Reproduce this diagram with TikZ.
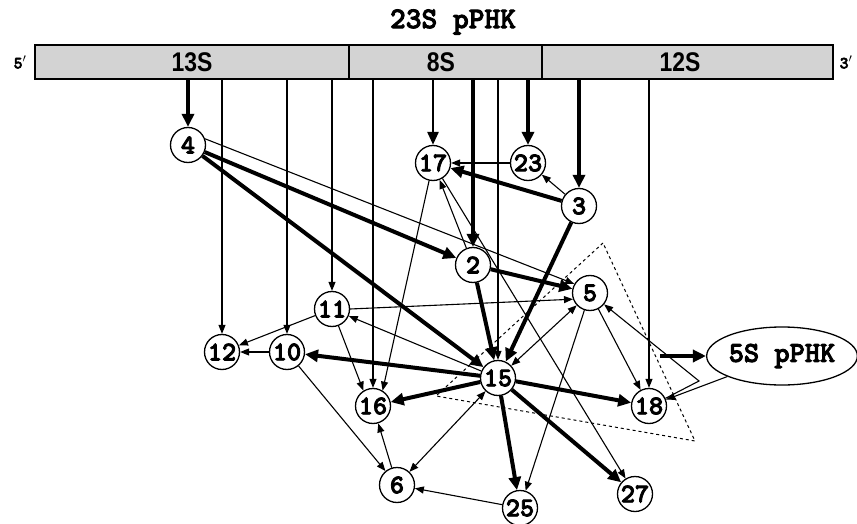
\documentclass[tikz,border=0pt]{standalone}
\usepackage{fontspec}
\setmainfont{Liberation Sans}
\newfontfamily\barfont[FakeStretch=0.85]{Liberation Sans}
\newfontfamily\tyfont[FakeBold=3]{lmmonolt10-bold.otf}
\usetikzlibrary{arrows.meta,shapes.geometric}
\definecolor{barGray}{RGB}{211,211,211}
\begin{document}
\begin{tikzpicture}[x=1pt,y=-1pt,
  num/.style={circle,draw,line width=1.3pt,fill=white,minimum size=35pt,inner sep=0pt,
    font=\tyfont\fontsize{27}{27}\selectfont},
  tarr/.style={line width=1.1pt,-{Triangle[length=9pt,width=7pt]}},
  tarrtwo/.style={line width=1.1pt,{Triangle[length=9pt,width=7pt]}-{Triangle[length=9pt,width=7pt]}},
  Marr/.style={line width=2.6pt,-{Triangle[length=13pt,width=11pt]}},
  Tarr/.style={line width=4pt,-{Triangle[length=13pt,width=12pt]}},
  seglabel/.style={font=\barfont\bfseries\fontsize{27}{27}\selectfont,inner sep=0pt},
  endlabel/.style={font=\tyfont\fontsize{17}{17}\selectfont,inner sep=0pt},
  triline/.style={line width=1pt,dash pattern=on 3pt off 3pt}
]
\useasboundingbox (0,0) rectangle (857,524);

% title
\node[font=\tyfont\fontsize{30}{30}\selectfont,inner sep=0pt] (title) at (453,22) {23S pPHK};

% bar
\draw[fill=barGray,line width=1.5pt] (35,45) rectangle (833,79);
\draw[line width=1.5pt] (349,45) -- (349,79);
\draw[line width=1.5pt] (542,45) -- (542,79);
\coordinate (bb) at (0,79);
\node[seglabel] (l13) at (192,62) {13S};
\node[seglabel] (l8) at (441,62) {8S};
\node[seglabel] (l12) at (680,62) {12S};
\node[endlabel] (five) at (20,62) {5$'$};
\node[endlabel] (three) at (846,62) {3$'$};

% dashed triangle
\draw[triline] (603,243) -- (436,396) -- (695,441) -- cycle;

% nodes
\node[num] (n4) at (188,145) {4};
\node[num] (n17) at (433,163) {17};
\node[num] (n23) at (528,163) {23};
\node[num] (n3) at (579,206) {3};
\node[num] (n2) at (473,265) {2};
\node[num] (n5) at (590,293) {5};
\node[num] (n11) at (332,309) {11};
\node[num] (n12) at (222,352) {12};
\node[num] (n10) at (287,352) {10};
\node[num] (n15) at (498,378) {15};
\node[num] (n16) at (373,406) {16};
\node[num] (n18) at (649,406) {18};
\node[num] (n6) at (397,485) {6};
\node[num] (n25) at (520,508) {25};
\node[num] (n27) at (635,494) {27};
\node[ellipse,draw,line width=1.3pt,fill=white,minimum width=132pt,minimum height=58pt,inner sep=0pt,
  font=\tyfont\fontsize{29}{29}\selectfont] (n5S) at (782,356) {5S pPHK};
\coordinate (c1) at (699,381);
\coordinate (c2) at (660,356);

% from the bar
\draw[Tarr] (n4 |- bb) -- (n4);
\draw[tarr] (n12 |- bb) -- (n12);
\draw[tarr] (n10 |- bb) -- (n10);
\draw[tarr] (n11 |- bb) -- (n11);
\draw[tarr] (n16 |- bb) -- (n16);
\draw[Marr] (n17 |- bb) -- (n17);
\draw[Tarr] (n2 |- bb) -- (n2);
\draw[tarr] (n15 |- bb) -- (n15);
\draw[Tarr] (n23 |- bb) -- (n23);
\draw[Tarr] (n3 |- bb) -- (n3);
\draw[tarr] (n18 |- bb) -- (n18);

% between nodes
\draw[Tarr] (n4) -- (n2);
\draw[Tarr] (n4) -- (n15);
\draw[tarr] (n4.20) -- (n5.150);
\draw[tarr] (n23) -- (n17);
\draw[Tarr] (n3) -- (n17);
\draw[tarr] (n3) -- (n23);
\draw[Tarr] (n3) -- (n15);
\draw[tarr] (n2) -- (n17);
\draw[Tarr] (n2) -- (n5);
\draw[Tarr] (n2) -- (n15);
\draw[tarr] (n17) -- (n16.58);
\draw[tarr] (n17) -- (n27);
\draw[tarr] (n11.east) -- (n5.200);
\draw[tarr] (n11) -- (n12);
\draw[tarr] (n11) -- (n16.122);
\draw[tarr] (n10) -- (n12);
\draw[tarr] (n10) -- (n6);
\draw[Tarr] (n15) -- (n10);
\draw[tarr] (n15) -- (n11);
\draw[Tarr] (n15) -- (n16);
\draw[Tarr] (n15) -- (n18);
\draw[Tarr] (n15) -- (n25);
\draw[Tarr] (n15) -- (n27);
\draw[tarrtwo] (n15) -- (n6);
\draw[tarrtwo] (n15) -- (n5);
\draw[tarr] (n5) -- (n25);
\draw[tarr] (n5) -- (n18);
\draw[tarr] (n6) -- (n16);
\draw[tarr] (n25) -- (n6);
\draw[tarr] (n18.25) -- (c1) -- (n5);
\draw[tarr] (n5S) -- (n18);
\draw[Tarr] (c2) -- (n5S);
\end{tikzpicture}
\end{document}
